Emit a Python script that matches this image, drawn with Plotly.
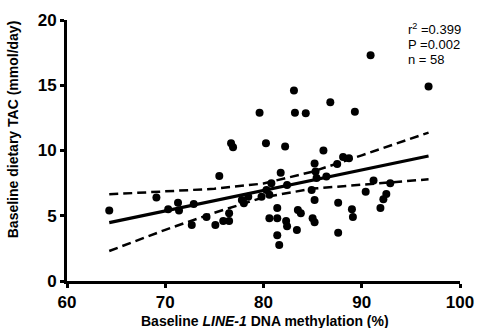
import plotly.graph_objects as go

# Scatter data: baseline LINE-1 DNA methylation (%) vs baseline dietary TAC (mmol/day)
meth_x = [64.3, 69.1, 70.3, 71.3, 71.4, 72.9, 72.7, 74.2, 75.1, 75.5, 75.9, 76.5, 76.5,
          76.7, 76.9, 77.8, 78.0, 78.45, 79.6, 79.8, 80.25, 80.3, 80.6, 80.6, 80.8,
          81.4, 81.4, 81.4, 81.6, 81.75, 82.2, 82.3, 82.4, 82.4, 83.1, 83.2, 83.4,
          83.5, 83.8, 84.3, 84.9, 85.0, 85.2, 85.2, 85.2, 85.3, 85.4, 86.1, 86.4,
          86.8, 87.5, 87.6, 87.6, 88.1, 88.7, 89.0, 89.1, 89.3, 90.4, 90.9, 91.2,
          91.9, 92.2, 92.5, 92.9, 96.8]
tac_y = [5.4, 6.4, 5.5, 6.0, 5.4, 5.9, 4.3, 4.9, 4.3, 8.05, 4.6, 4.6, 5.2,
         10.55, 10.25, 6.2, 5.95, 6.45, 12.9, 6.45, 10.55, 6.97, 6.6, 4.8, 7.5,
         5.6, 4.8, 3.5, 2.76, 8.3, 10.3, 4.6, 4.2, 7.36, 14.6, 12.9, 3.9,
         5.44, 5.2, 12.85, 6.97, 4.8, 4.5, 6.2, 9.0, 8.4, 7.9, 10.0, 8.0,
         13.7, 8.97, 6.0, 3.7, 9.5, 9.4, 5.5, 4.9, 12.97, 6.84, 17.3, 7.7,
         5.6, 6.26, 6.67, 7.5, 14.9]

# Regression line
fit_x = [64.3, 96.8]
fit_y = [4.47, 9.58]

# 95% confidence band
ci_x = [64.3, 70, 75, 80, 85, 90, 96.8]
ci_upper = [6.64, 6.85, 7.07, 7.47, 8.38, 9.63, 11.37]
ci_lower = [2.30, 3.92, 5.23, 6.41, 7.08, 7.39, 7.79]

x_ticks = [60, 70, 80, 90, 100]
y_ticks = [0, 5, 10, 15, 20]

stats_lines = ["r<sup>2</sup> =0.399", "P =0.002", "n = 58"]

FONT = "Liberation Sans, Arial, Helvetica, sans-serif"

fig = go.Figure()
fig.add_trace(go.Scatter(x=ci_x, y=ci_upper, mode="lines",
                         line=dict(color="black", width=2.5, dash="9px,5px"),
                         showlegend=False, hoverinfo="skip"))
fig.add_trace(go.Scatter(x=ci_x, y=ci_lower, mode="lines",
                         line=dict(color="black", width=2.5, dash="9px,5px"),
                         showlegend=False, hoverinfo="skip"))
fig.add_trace(go.Scatter(x=fit_x, y=fit_y, mode="lines",
                         line=dict(color="black", width=3.2),
                         showlegend=False, hoverinfo="skip"))
fig.add_trace(go.Scatter(x=meth_x, y=tac_y, mode="markers",
                         marker=dict(color="black", size=8),
                         showlegend=False))

axis_common = dict(showline=True, linecolor="black", linewidth=3, showgrid=False,
                   zeroline=False, ticks="outside", ticklen=4, tickwidth=3,
                   tickcolor="black", automargin=False,
                   tickfont=dict(family=FONT, size=17, color="black"))

fig.update_xaxes(range=[60, 100], tickvals=x_ticks,
                 ticktext=["<b>%d</b>" % v for v in x_ticks],
                 **axis_common)
fig.update_yaxes(range=[0, 20], tickvals=y_ticks,
                 ticktext=["<b>%d</b>" % v for v in y_ticks],
                 **axis_common)

annotations = [
    dict(text="<b>Baseline dietary TAC (mmol/day)</b>", xref="paper", yref="paper",
         x=-0.137, y=0.582, xanchor="center", yanchor="middle", textangle=-90,
         showarrow=False, font=dict(family=FONT, size=14, color="black")),
    dict(text="<b>Baseline <i>LINE-1</i> DNA methylation (%)</b>", xref="paper", yref="paper",
         x=0.504, y=-0.153, xanchor="center", yanchor="middle",
         showarrow=False, font=dict(family=FONT, size=14, color="black")),
]
for i, s in enumerate(stats_lines):
    annotations.append(dict(text=s, xref="paper", yref="paper", x=0.863,
                            y=0.966 - i * 0.058, xanchor="left", yanchor="middle",
                            showarrow=False,
                            font=dict(family=FONT, size=13, color="black")))

fig.update_layout(width=477, height=328, margin=dict(l=67, r=17, t=20, b=47, autoexpand=False),
                  plot_bgcolor="white", paper_bgcolor="white",
                  annotations=annotations)

# remove the browser's default 8px body margin so the figure fills the window exactly
fig.write_html("out.html", config={"displayModeBar": False},
               post_script="document.body.style.margin='0';document.body.style.overflow='hidden';")
